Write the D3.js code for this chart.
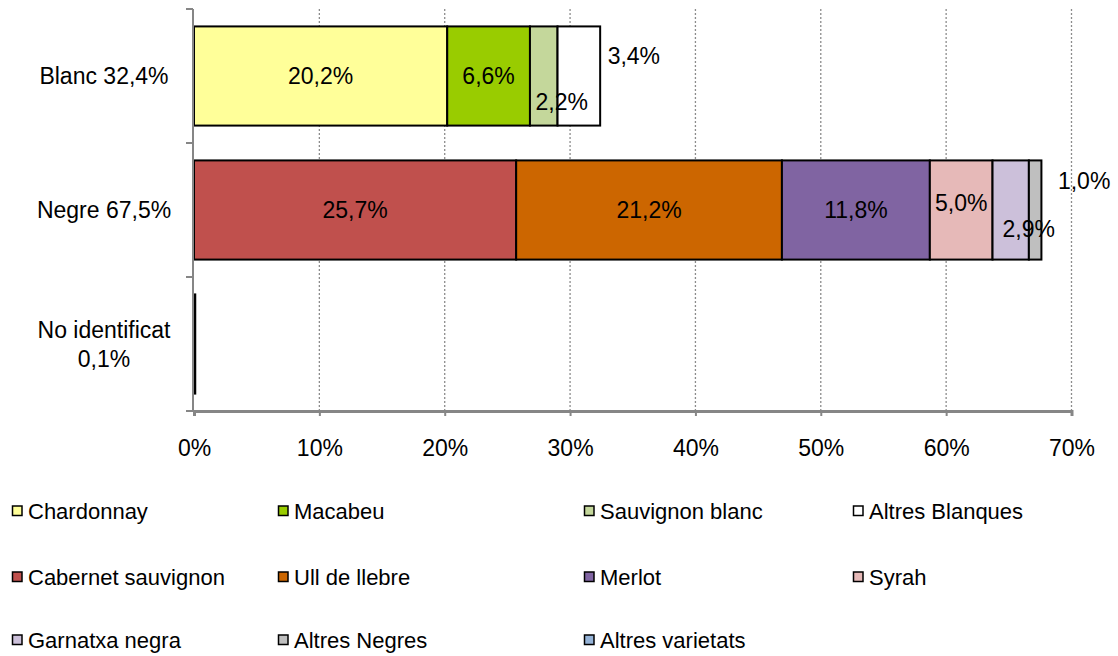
<!DOCTYPE html>
<html>
<head>
<meta charset="utf-8">
<script src="https://cdn.jsdelivr.net/npm/d3@7"></script>
<style>
  body { margin: 0; background: #fff; }
  text { font-family: "Liberation Sans", Arial, sans-serif; fill: #000; }
</style>
</head>
<body>
<div id="chart"></div>
<script>
// categories (rows) and their labels
const CATEGORIES = ["Blanc", "Negre", "No identificat"];
const CAT_LABELS = [["Blanc 32,4%"], ["Negre 67,5%"], ["No identificat", "0,1%"]];

// varieties (series) in legend order
const VARIETIES = ["Chardonnay", "Macabeu", "Sauvignon blanc", "Altres Blanques",
  "Cabernet sauvignon", "Ull de llebre", "Merlot", "Syrah",
  "Garnatxa negra", "Altres Negres", "Altres varietats"];
const COLORS = ["#FFFF99", "#99CC00", "#C4D79B", "#FFFFFF",
  "#C0504D", "#CC6600", "#8064A2", "#E6B9B8",
  "#CCC0DA", "#BFBFBF", "#95B3D7"];

// which row each variety sits in, and its share (%)
const VAR_CATEGORY = ["Blanc", "Blanc", "Blanc", "Blanc",
  "Negre", "Negre", "Negre", "Negre", "Negre", "Negre", "No identificat"];
const VALUES = [20.2, 6.6, 2.2, 3.4, 25.7, 21.2, 11.8, 5.0, 2.9, 1.0, 0.1];
const SHOW_LABEL = [true, true, true, true, true, true, true, true, true, true, false];

const X_TICKS = [0, 10, 20, 30, 40, 50, 60, 70];

// hand-moved data labels (like in the original spreadsheet)
const labelNudge = {
  "Sauvignon blanc": [18, 26],
  "Altres Blanques": [55, -20],
  "Syrah": [0, -7],
  "Garnatxa negra": [18, 19],
  "Altres Negres": [49, -29]
};

const W = 1118, H = 656;
const svg = d3.select("#chart").append("svg")
  .attr("width", W).attr("height", H);

const x = d3.scaleLinear().domain([0, 70]).range([194, 1071.5]);
const y = d3.scaleBand().domain(CATEGORIES).range([9, 411])
  .paddingInner(0.26).paddingOuter(0.13);
const color = d3.scaleOrdinal().domain(VARIETIES).range(COLORS);
const fmt = v => d3.format(".1f")(v).replace(".", ",") + "%";

// build stacked segments
const segs = [];
const acc = {};
VARIETIES.forEach((v, i) => {
  const c = VAR_CATEGORY[i];
  const x0 = acc[c] || 0;
  segs.push({ name: v, cat: c, x0: x0, x1: x0 + VALUES[i], value: VALUES[i], show: SHOW_LABEL[i] });
  acc[c] = x0 + VALUES[i];
});

// grid lines
svg.append("g").selectAll("line")
  .data(X_TICKS.slice(1))
  .join("line")
  .attr("x1", d => x(d)).attr("x2", d => x(d))
  .attr("y1", 9).attr("y2", 411)
  .attr("stroke", "#8c8c8c").attr("stroke-width", 1.3)
  .attr("stroke-dasharray", "2,2");

// bars
svg.append("g").selectAll("rect")
  .data(segs)
  .join("rect")
  .attr("x", d => x(d.x0))
  .attr("y", d => y(d.cat))
  .attr("width", d => x(d.x1) - x(d.x0))
  .attr("height", y.bandwidth())
  .attr("fill", d => color(d.name))
  .attr("stroke", "#000")
  .attr("stroke-width", 2);

// x axis
const xAxis = svg.append("g")
  .attr("transform", "translate(0,411)")
  .call(d3.axisBottom(x).tickValues(X_TICKS).tickFormat(d => d + "%").tickSize(5).tickPadding(24));
xAxis.select(".domain").attr("stroke", "#868686").attr("stroke-width", 3);
xAxis.selectAll(".tick line").attr("stroke", "#868686").attr("stroke-width", 2);
xAxis.selectAll("text").attr("font-size", 23).attr("fill", "#000")
  .style("font-family", "'Liberation Sans', Arial, sans-serif");

// y axis
const yAxis = svg.append("g").attr("transform", "translate(193,0)");
yAxis.append("line").attr("x1", 0).attr("x2", 0).attr("y1", 9).attr("y2", 411)
  .attr("stroke", "#868686").attr("stroke-width", 2);
const step = y.step();
yAxis.selectAll("line.tk")
  .data(d3.range(CATEGORIES.length + 1))
  .join("line").attr("class", "tk")
  .attr("x1", -7).attr("x2", 0)
  .attr("y1", i => 9 + i * step).attr("y2", i => 9 + i * step)
  .attr("stroke", "#868686").attr("stroke-width", 2);

// category labels
const catText = svg.append("g").selectAll("text")
  .data(CATEGORIES)
  .join("text")
  .attr("text-anchor", "middle")
  .attr("font-size", 23);
catText.each(function (d, i) {
  const lines = CAT_LABELS[i];
  const cy = y(d) + y.bandwidth() / 2;
  const t = d3.select(this);
  lines.forEach((ln, j) => {
    t.append("tspan")
      .attr("x", 104)
      .attr("y", cy + (j - (lines.length - 1) / 2) * 29)
      .attr("dy", "0.36em")
      .text(ln);
  });
});

// data labels
svg.append("g").selectAll("text")
  .data(segs.filter(d => d.show))
  .join("text")
  .attr("text-anchor", "middle")
  .attr("font-size", 23)
  .attr("x", d => (x(d.x0) + x(d.x1)) / 2 + (labelNudge[d.name] ? labelNudge[d.name][0] : 0))
  .attr("y", d => y(d.cat) + y.bandwidth() / 2 + (labelNudge[d.name] ? labelNudge[d.name][1] : 0))
  .attr("dy", "0.36em")
  .text(d => fmt(d.value));

// legend
const legX = [12, 278, 584, 853];
const legY = [511, 577, 640];
const leg = svg.append("g").selectAll("g")
  .data(VARIETIES)
  .join("g")
  .attr("transform", (d, i) => "translate(" + legX[i % 4] + "," + legY[Math.floor(i / 4)] + ")");
leg.append("rect")
  .attr("x", 0.5).attr("y", -5).attr("width", 9.5).attr("height", 9.5)
  .attr("fill", d => color(d)).attr("stroke", "#000").attr("stroke-width", 1.5);
leg.append("text")
  .attr("x", 16).attr("y", 0).attr("dy", "0.36em")
  .attr("font-size", 22)
  .text(d => d);
</script>
</body>
</html>
